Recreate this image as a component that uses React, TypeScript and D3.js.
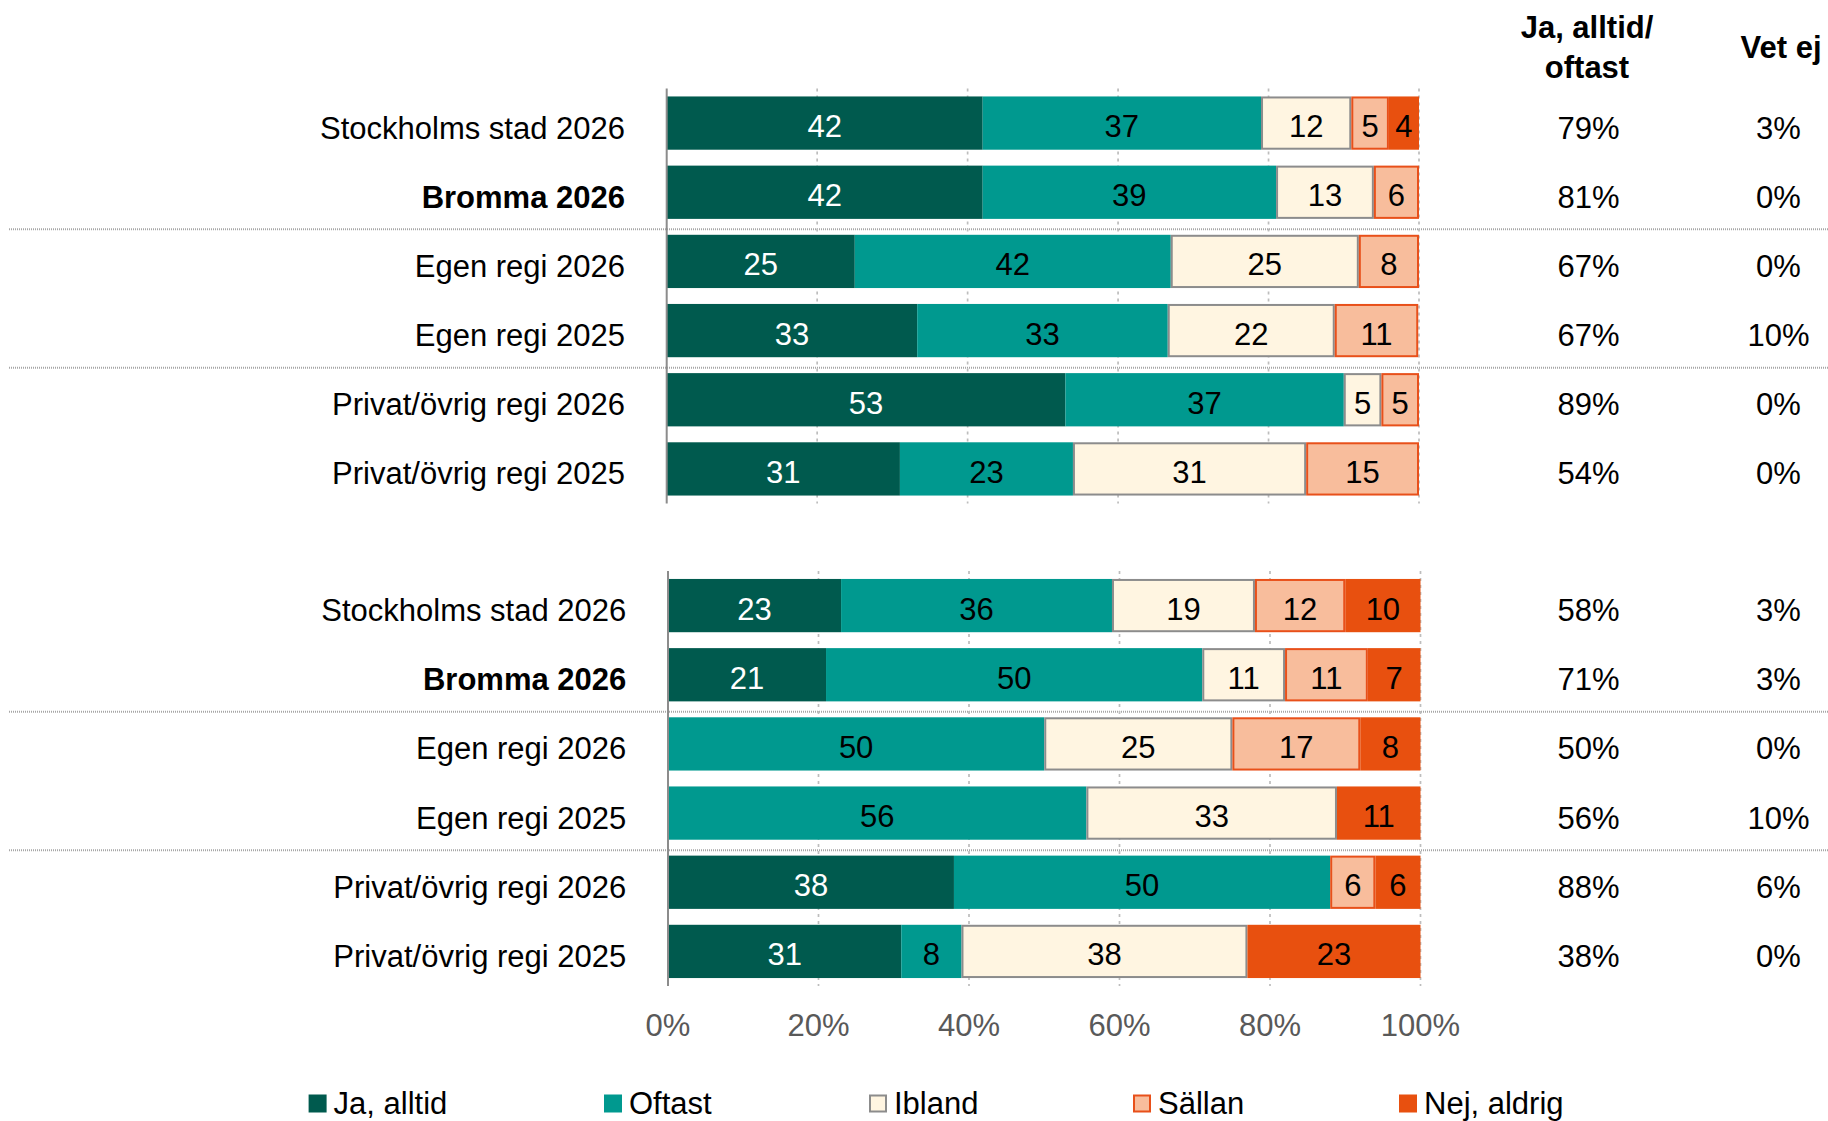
import React from "react";
import * as d3 from "d3";

// ---------- DATA ----------
const categories = [
  "Stockholms stad 2026",
  "Bromma 2026",
  "Egen regi 2026",
  "Egen regi 2025",
  "Privat/övrig regi 2026",
  "Privat/övrig regi 2025",
];
const boldCategory = "Bromma 2026";
const seriesNames = ["Ja, alltid", "Oftast", "Ibland", "Sällan", "Nej, aldrig"];

const panel1JaAlltid = [42, 42, 25, 33.3, 53, 31];
const panel1Oftast = [37, 39, 42, 33.3, 37, 23];
const panel1Ibland = [12, 13, 25, 22.2, 5, 31];
const panel1Sallan = [5, 6, 8, 11.1, 5, 15];
const panel1NejAldrig = [4, 0, 0, 0, 0, 0];
const panel1JaOftast = ["79%", "81%", "67%", "67%", "89%", "54%"];
const panel1VetEj = ["3%", "0%", "0%", "10%", "0%", "0%"];

const panel2JaAlltid = [23, 21, 0, 0, 38, 31];
const panel2Oftast = [36, 50, 50, 55.6, 50, 8];
const panel2Ibland = [19, 11, 25, 33.3, 0, 38];
const panel2Sallan = [12, 11, 17, 0, 6, 0];
const panel2NejAldrig = [10, 7, 8, 11.1, 6, 23];
const panel2JaOftast = ["58%", "71%", "50%", "56%", "88%", "38%"];
const panel2VetEj = ["3%", "3%", "0%", "10%", "6%", "0%"];

const xTicks = [0, 20, 40, 60, 80, 100];
const headerJaOftast = ["Ja, alltid/", "oftast"];
const headerVetEj = "Vet ej";

// ---------- STYLE ----------
const FONT = "'Liberation Sans', Arial, sans-serif";
const FS = 31;
const seriesStyle: Record<string, { fill: string; stroke: string; text: string }> = {
  "Ja, alltid": { fill: "#005a4e", stroke: "none", text: "#ffffff" },
  Oftast: { fill: "#00998f", stroke: "none", text: "#000000" },
  Ibland: { fill: "#fff5e1", stroke: "#8c8c8c", text: "#000000" },
  Sällan: { fill: "#f8bd9c", stroke: "#e8501a", text: "#000000" },
  "Nej, aldrig": { fill: "#e8500f", stroke: "none", text: "#000000" },
};

const legendX = [308.6, 604, 869, 1133, 1399];

function buildRows(a: number[], b: number[], c: number[], d: number[], e: number[]) {
  return categories.map((cat, i) => ({
    cat,
    "Ja, alltid": a[i],
    Oftast: b[i],
    Ibland: c[i],
    Sällan: d[i],
    "Nej, aldrig": e[i],
  }));
}

const panels = [
  {
    rows: buildRows(panel1JaAlltid, panel1Oftast, panel1Ibland, panel1Sallan, panel1NejAldrig),
    jaOftast: panel1JaOftast,
    vetEj: panel1VetEj,
    top: 88.5,
    bottom: 503.5,
    x0: 666.7,
    x1: 1419,
    showTicks: false,
  },
  {
    rows: buildRows(panel2JaAlltid, panel2Oftast, panel2Ibland, panel2Sallan, panel2NejAldrig),
    jaOftast: panel2JaOftast,
    vetEj: panel2VetEj,
    top: 571,
    bottom: 986,
    x0: 668,
    x1: 1420.5,
    showTicks: true,
  },
];

function Panel({ p }: { p: (typeof panels)[number] }) {
  const x = d3.scaleLinear().domain([0, 100]).range([p.x0, p.x1]);
  const y = d3
    .scaleBand<string>()
    .domain(categories)
    .range([p.top, p.bottom])
    .paddingInner(0.23)
    .paddingOuter(0.115);
  const stacked = d3.stack<any>().keys(seriesNames)(p.rows);
  const bw = y.bandwidth();
  const sepIdx = [2, 4];
  return (
    <g>
      {/* separators */}
      {sepIdx.map((i) => {
        const yy = (y(categories[i]) as number) - (y.paddingInner() * y.step()) / 2 + 2.5;
        return (
          <line
            key={"sep" + i}
            x1={9}
            x2={1828}
            y1={yy}
            y2={yy}
            stroke="#a6a6a6"
            strokeWidth={2}
            strokeDasharray="1 1"
          />
        );
      })}
      {/* gridlines */}
      {xTicks
        .filter((t) => t > 0)
        .map((t) => (
          <line
            key={"g" + t}
            x1={x(t)}
            x2={x(t)}
            y1={p.top}
            y2={p.bottom}
            stroke="#bdbdbd"
            strokeWidth={1.7}
            strokeDasharray="3 4"
          />
        ))}
      {/* bars */}
      {stacked.map((s) => {
        const st = seriesStyle[s.key];
        return (
          <g key={s.key}>
            {s.map((d, i) => {
              const w = x(d[1]) - x(d[0]);
              if (w <= 0) return null;
              const cy = (y(categories[i]) as number) + bw / 2;
              const hasStroke = st.stroke !== "none";
              return (
                <g key={i}>
                  <rect
                    x={x(d[0]) + (hasStroke ? 1 : 0)}
                    y={(y(categories[i]) as number) + (hasStroke ? 1 : 0)}
                    width={w - (hasStroke ? 2 : 0)}
                    height={bw - (hasStroke ? 2 : 0)}
                    fill={st.fill}
                    stroke={st.stroke}
                    strokeWidth={hasStroke ? 2 : 0}
                  />
                  <text
                    x={(x(d[0]) + x(d[1])) / 2}
                    y={cy + 14}
                    textAnchor="middle"
                    fontFamily={FONT}
                    fontSize={FS}
                    fill={st.text}
                  >
                    {Math.round(d[1] - d[0])}
                  </text>
                </g>
              );
            })}
          </g>
        );
      })}
      {/* axis line */}
      <line x1={p.x0} x2={p.x0} y1={p.top} y2={p.bottom} stroke="#8c8c8c" strokeWidth={2} />
      {/* category labels */}
      {categories.map((c, i) => {
        const cy = (y(c) as number) + bw / 2;
        return (
          <g key={c}>
            <text
              x={p.x0 - 41.7}
              y={cy + 15.5}
              textAnchor="end"
              fontFamily={FONT}
              fontSize={FS}
              fontWeight={c === boldCategory ? "bold" : "normal"}
              fill="#000"
            >
              {c}
            </text>
            <text x={1588.5} y={cy + 15.5} textAnchor="middle" fontFamily={FONT} fontSize={FS} fill="#000">
              {p.jaOftast[i]}
            </text>
            <text x={1778.5} y={cy + 15.5} textAnchor="middle" fontFamily={FONT} fontSize={FS} fill="#000">
              {p.vetEj[i]}
            </text>
          </g>
        );
      })}
      {/* tick labels */}
      {p.showTicks &&
        xTicks.map((t) => (
          <text
            key={"t" + t}
            x={x(t)}
            y={1035.5}
            textAnchor="middle"
            fontFamily={FONT}
            fontSize={FS}
            fill="#595959"
          >
            {t + "%"}
          </text>
        ))}
    </g>
  );
}

export default function App() {
  return (
    <svg
      width={1828}
      height={1121}
      style={{ position: "absolute", left: 0, top: 0, background: "#fff" }}
    >
      <rect x={0} y={0} width={1828} height={1121} fill="#fff" />
      {panels.map((p, i) => (
        <Panel key={i} p={p} />
      ))}
      {/* headers */}
      <text x={1587} y={38} textAnchor="middle" fontFamily={FONT} fontSize={FS} fontWeight="bold">
        {headerJaOftast[0]}
      </text>
      <text x={1587} y={77.5} textAnchor="middle" fontFamily={FONT} fontSize={FS} fontWeight="bold">
        {headerJaOftast[1]}
      </text>
      <text x={1781} y={58} textAnchor="middle" fontFamily={FONT} fontSize={FS} fontWeight="bold">
        {headerVetEj}
      </text>
      {/* legend */}
      {seriesNames.map((s, i) => {
        const st = seriesStyle[s];
        const hasStroke = st.stroke !== "none";
        return (
          <g key={s}>
            <rect
              x={legendX[i] + (hasStroke ? 1 : 0)}
              y={1094.5 + (hasStroke ? 1 : 0)}
              width={18 - (hasStroke ? 2 : 0)}
              height={18 - (hasStroke ? 2 : 0)}
              fill={st.fill}
              stroke={st.stroke}
              strokeWidth={hasStroke ? 2 : 0}
            />
            <text x={legendX[i] + 25} y={1114} fontFamily={FONT} fontSize={FS} fill="#000">
              {s}
            </text>
          </g>
        );
      })}
    </svg>
  );
}
